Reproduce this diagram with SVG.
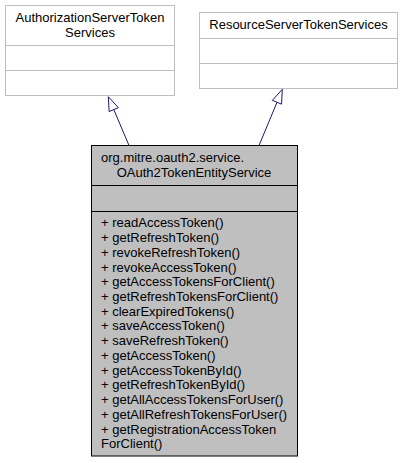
<svg xmlns="http://www.w3.org/2000/svg" width="402" height="463" viewBox="0 0 402 463">
<style>
text{font-family:"Liberation Sans",Arial,sans-serif;font-size:13px;fill:#000}
.ext{fill:#fff;stroke:#bfbfbf;stroke-width:1}
.main{fill:#bfbfbf;stroke:#000;stroke-width:1}
.sep-ext{stroke:#bfbfbf;stroke-width:1}
.sep-main{stroke:#000;stroke-width:1}
.edge{stroke:#191970;stroke-width:1;fill:none}
.head{fill:#fff;stroke:#191970;stroke-width:1}
.c{text-anchor:middle}
</style>
<rect width="402" height="463" fill="#fff"/>
<g id="AuthorizationServerTokenServices">
<rect class="ext" x="5.5" y="5.5" width="169" height="90"/>
<line class="sep-ext" x1="5.5" y1="45.5" x2="174.5" y2="45.5"/>
<line class="sep-ext" x1="5.5" y1="70.5" x2="174.5" y2="70.5"/>
<text class="c" x="90" y="21.5">AuthorizationServerToken</text>
<text class="c" x="90" y="36.5">Services</text>
</g>
<g id="ResourceServerTokenServices">
<rect class="ext" x="199.5" y="12.5" width="198" height="76"/>
<line class="sep-ext" x1="199.5" y1="38.5" x2="397.5" y2="38.5"/>
<line class="sep-ext" x1="199.5" y1="63.5" x2="397.5" y2="63.5"/>
<text class="c" x="298.5" y="29">ResourceServerTokenServices</text>
</g>
<g id="OAuth2TokenEntityService">
<rect class="main" x="91.5" y="145.5" width="206" height="310.5"/>
<line class="sep-main" x1="91.5" y1="185.5" x2="297.5" y2="185.5"/>
<line class="sep-main" x1="91.5" y1="211.5" x2="297.5" y2="211.5"/>
<text x="101" y="161.5">org.mitre.oauth2.service.</text>
<text class="c" x="194" y="176.5">OAuth2TokenEntityService</text>
<text x="101" y="227.3">+ readAccessToken()</text>
<text x="101" y="242">+ getRefreshToken()</text>
<text x="101" y="256.8">+ revokeRefreshToken()</text>
<text x="101" y="271.5">+ revokeAccessToken()</text>
<text x="101" y="286.2">+ getAccessTokensForClient()</text>
<text x="101" y="301">+ getRefreshTokensForClient()</text>
<text x="101" y="315.7">+ clearExpiredTokens()</text>
<text x="101" y="330.4">+ saveAccessToken()</text>
<text x="101" y="345.1">+ saveRefreshToken()</text>
<text x="101" y="359.9">+ getAccessToken()</text>
<text x="101" y="374.6">+ getAccessTokenById()</text>
<text x="101" y="389.3">+ getRefreshTokenById()</text>
<text x="101" y="404.1">+ getAllAccessTokensForUser()</text>
<text x="101" y="418.8">+ getAllRefreshTokensForUser()</text>
<text x="101" y="433.5">+ getRegistrationAccessToken</text>
<text x="101" y="448.3">ForClient()</text>
</g>
<g id="connectors">
<line class="edge" x1="129" y1="145.5" x2="113.8" y2="109.6"/>
<polygon class="head" points="108.3,96.7 118.35,107.65 109.15,111.55"/>
<line class="edge" x1="259" y1="145.5" x2="277" y2="102.3"/>
<polygon class="head" points="282.3,89.3 281.55,104.15 272.35,100.35"/>
</g>
</svg>
